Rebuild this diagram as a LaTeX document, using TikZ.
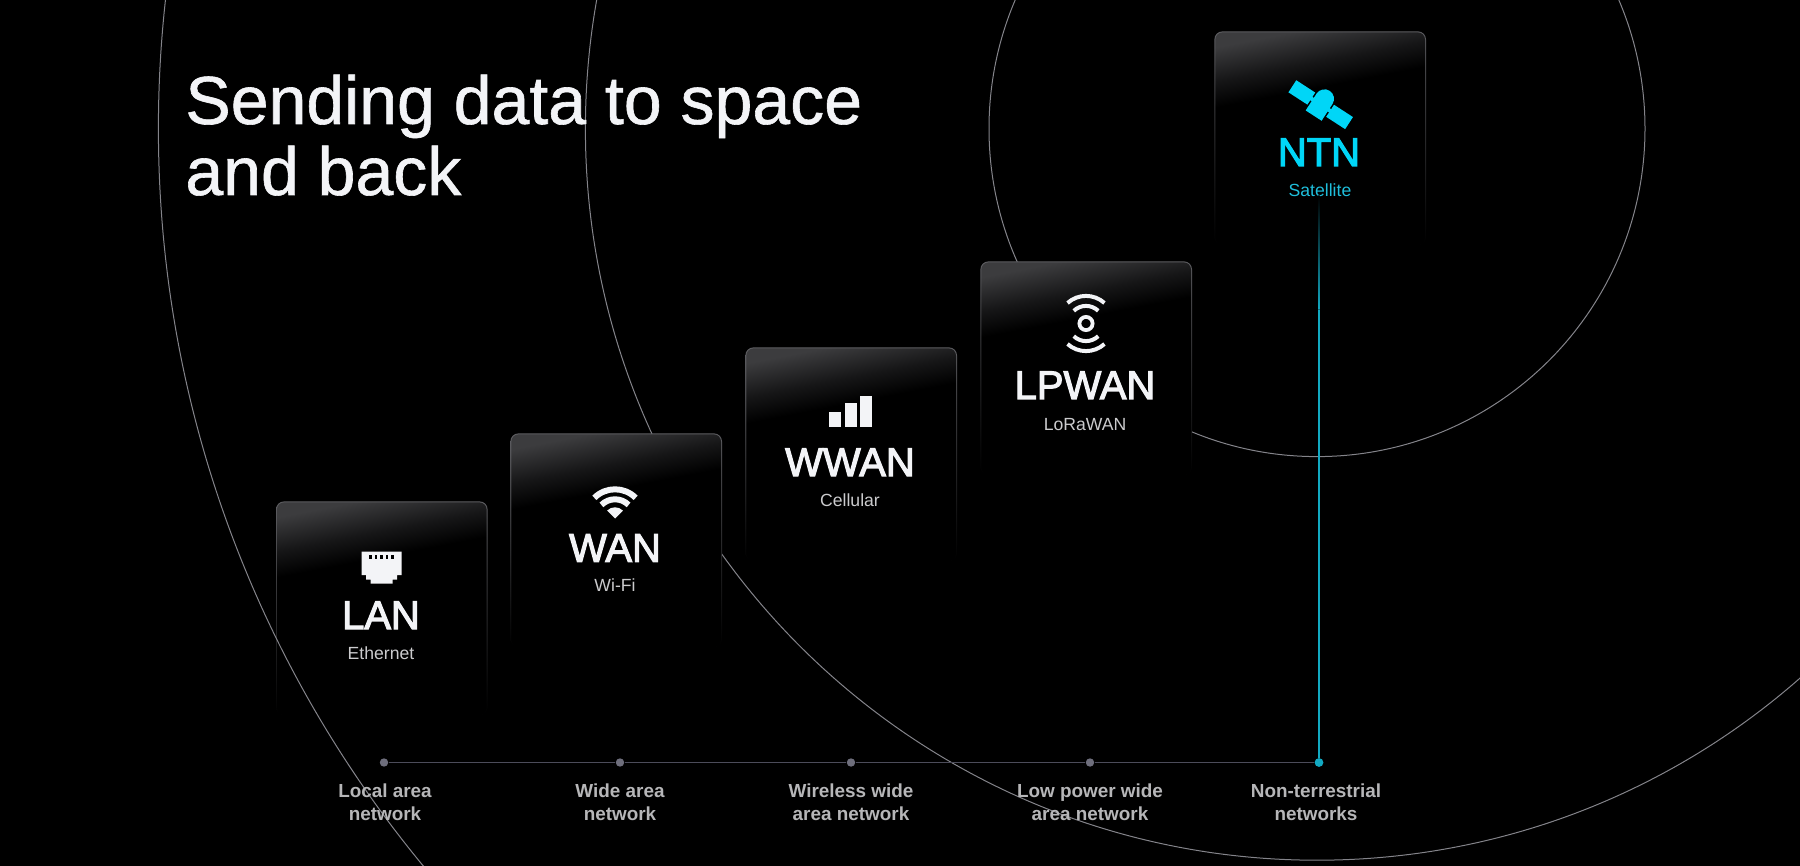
\documentclass[tikz,border=0pt]{standalone}
\usepackage{fontspec}
\setmainfont{Liberation Sans}
\newcommand{\heavier}[1]{\special{pdf:code 2 Tr #1 w}}
\definecolor{cardrim}{HTML}{5E5E62}
\definecolor{cardtop}{HTML}{3C3C3E}
\definecolor{cardmid}{HTML}{161617}
\definecolor{ringgray}{HTML}{84848A}
\definecolor{linegray}{HTML}{4C4C5A}
\definecolor{dotgray}{HTML}{6E6E7C}
\definecolor{labelgray}{HTML}{B6B6B8}
\definecolor{subgray}{HTML}{CBCBCD}
\definecolor{paper}{HTML}{F3F4F7}
\definecolor{ntncyan}{HTML}{00D6F7}
\definecolor{ntndim}{HTML}{1FBEDB}
\definecolor{ntnline}{HTML}{12A9C2}
\pgfdeclareverticalshading{cardglow}{100bp}{color(0bp)=(black); color(62bp)=(black); color(68bp)=(cardmid); color(76bp)=(cardtop); color(100bp)=(cardtop)}

\begin{document}
\begin{tikzpicture}[x=0.5pt,y=-0.5pt]
  \tikzstyle{card}=[rectangle,rounded corners=4pt,minimum width=105.8pt,minimum height=107pt,inner sep=0pt,anchor=north west,
    path picture={
      \shade[top color=cardrim,bottom color=black] (path picture bounding box.south west) rectangle (path picture bounding box.north east);
      \shade[shading=cardglow,shading angle=11,rounded corners=3.6pt] ([shift={(0.5pt,0.5pt)}]path picture bounding box.south west) rectangle ([shift={(-0.5pt,-0.5pt)}]path picture bounding box.north east);
    }]
  \tikzstyle{cardname}=[anchor=base,inner sep=0pt,text=paper,font=\fontsize{20}{24}\selectfont\heavier{0.55}]
  \tikzstyle{cardsub}=[anchor=base,inner sep=0pt,text=subgray,font=\fontsize{8.8}{10}\selectfont]
  \tikzstyle{tick}=[circle,fill=dotgray,inner sep=0pt,minimum size=4.2pt]
  \tikzstyle{ticklabel}=[align=center,text=labelgray,inner sep=0pt,font=\bfseries\fontsize{9.45}{11.8}\selectfont,node distance=19.8pt]
  \tikzstyle{ring}=[draw=ringgray,line width=0.5pt]

  \fill[black] (0,0) rectangle (1800,866);
  \useasboundingbox (0,0) rectangle (1800,866);
  \clip (0,0) rectangle (1800,866);

  \coordinate (hub) at (1317,128.6);
  \draw[ring] (hub) circle [radius=365.8pt];
  \draw[ring] (hub) circle [radius=164pt];

  % cards, rising to the right
  \node[card](wan) at (510,433) {};
  \node[card](wwan) at (745,347) {};
  \node[card](lpwan) at (980,261) {};
  \node[card](ntn) at (1214,31) {};
  \node[card](lan) at (275.6,501) {};
  \draw[ring] (hub) circle [radius=579.3pt];

  \node[anchor=base west,inner sep=0pt,text=paper,align=left,font=\fontsize{34}{35.5}\selectfont\heavier{0.3}](headline) at (185,195) {Sending data to space\\and back};

  \node[cardname](lanname) at (381,629) {LAN};
  \node[cardsub](lansub) at (381,659) {Ethernet};
  \node[cardname](wanname) at (615,561.7) {WAN};
  \node[cardsub](wansub) at (615,591.7) {Wi-Fi};
  \node[cardname](wwanname) at (850,476) {WWAN};
  \node[cardsub](wwansub) at (850,506) {Cellular};
  \node[cardname](lpwanname) at (1085,399) {LPWAN};
  \node[cardsub](lpwansub) at (1085,430) {LoRaWAN};
  \node[cardname,text=ntncyan](ntnname) at (1319,166) {NTN};
  \node[cardsub,text=ntndim](ntnsub) at (1320,196.7) {Satellite};

  % ethernet jack
  \begin{scope}[shift={(381,551.7)}]
    \fill[paper] (-19.5,0) -- (20.5,0) -- (20.5,23.5) -- (16,23.5) -- (16,28) -- (11.5,28) -- (11.5,32) -- (-10.5,32) -- (-10.5,28) -- (-15,28) -- (-15,23.5) -- (-19.5,23.5) -- cycle;
    \foreach \x in {-10.5,-5,0.5,6,11.5}
      \fill[black] (\x-1.4,3.5) rectangle (\x+1.4,7.5);
  \end{scope}

  % wi-fi fan
  \begin{scope}[shift={(615,518.5)}]
    \fill[paper] (0,0) -- (45:5.6pt) arc[start angle=45,end angle=135,radius=5.6pt] -- cycle;
    \draw[paper,line width=3pt] (45:9.6pt) arc[start angle=45,end angle=135,radius=9.6pt];
    \draw[paper,line width=3pt] (45:14.6pt) arc[start angle=45,end angle=135,radius=14.6pt];
  \end{scope}

  % signal bars
  \fill[paper] (829,412) rectangle (841,427.3);
  \fill[paper] (845,403) rectangle (856.7,427.3);
  \fill[paper] (860,395.7) rectangle (872.3,427.3);

  % lora beacon
  \begin{scope}[shift={(1086,323.5)}]
    \draw[paper,line width=1.9pt] (0,0) circle [radius=3.3pt];
    \foreach \a in {90,270} {
      \draw[paper,line width=2pt] (\a-44:8.8pt) arc[start angle=\a-44,end angle=\a+44,radius=8.8pt];
      \draw[paper,line width=2pt] (\a-42:13.8pt) arc[start angle=\a-42,end angle=\a+42,radius=13.8pt];
    }
  \end{scope}

  % satellite
  \begin{scope}[shift={(1320.7,104.7)},rotate=-33]
    \fill[ntncyan] (-33.8,-7.2) rectangle (-11.2,7.2);
    \fill[ntncyan] (11.2,-7.2) rectangle (33.8,7.2);
    \fill[ntncyan] (-12,-2) rectangle (12,2);
    \fill[ntncyan] (-9.5,13) -- (9.5,13) -- (9.5,-7) arc[start angle=0,end angle=180,radius=4.75pt] -- cycle;
  \end{scope}

  % speed line along the bottom
  \node[tick](landot) at (384,762.5) {};
  \node[tick](wandot) at (620,762.5) {};
  \node[tick](wwandot) at (851,762.5) {};
  \node[tick](lpwandot) at (1090,762.5) {};
  \node[tick,fill=ntnline,minimum size=4.4pt](ntndot) at (1319,762.5) {};
  \coordinate (ntnlead) at (1319,310);
  \coordinate (ntnhead) at (1319,196);

  \draw[linegray,line width=0.75pt] (landot) -- (wandot);
  \draw[linegray,line width=0.75pt] (wandot) -- (wwandot);
  \draw[linegray,line width=0.75pt] (wwandot) -- (lpwandot);
  \draw[linegray,line width=0.75pt] (lpwandot) -- (ntndot);
  \draw[ntnline,line width=0.7pt] (ntndot) -- (ntnlead);
  \shade[top color=black,bottom color=ntnline] ([xshift=-0.35pt]ntnhead) rectangle ([xshift=0.35pt]ntnlead);

  \node[ticklabel,below of=landot,xshift=0.5pt](lanlabel) {Local area\\network};
  \node[ticklabel,below of=wandot](wanlabel) {Wide area\\network};
  \node[ticklabel,below of=wwandot](wwanlabel) {Wireless wide\\area network};
  \node[ticklabel,below of=lpwandot](lpwanlabel) {Low power wide\\area network};
  \node[ticklabel,below of=ntndot,xshift=-1.5pt](ntnlabel) {Non-terrestrial\\networks};
\end{tikzpicture}
\end{document}
